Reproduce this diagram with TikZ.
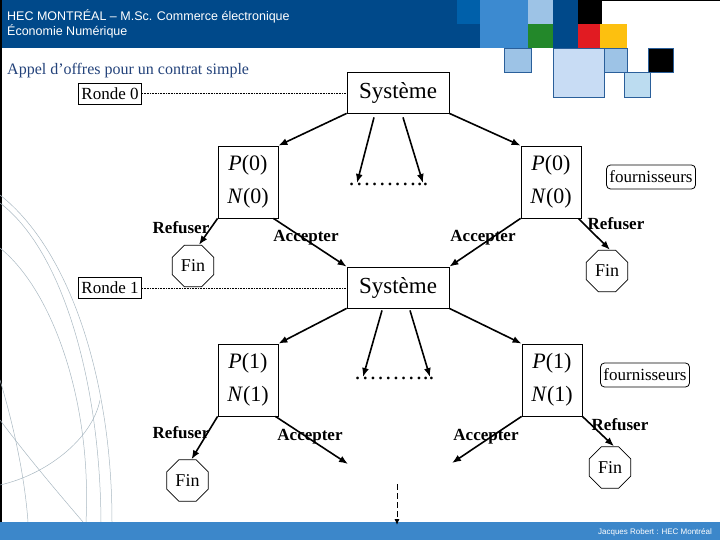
\documentclass[tikz,border=0pt]{standalone}
\usepackage{fontspec}
\setmainfont{Liberation Serif}
\newfontfamily\hecsans{Liberation Sans}
\usepackage{tikz}
\usetikzlibrary{arrows.meta, calc, positioning, shapes.geometric}
\usepackage{xcolor}
\definecolor{HecBlue}{HTML}{00498A}
\definecolor{HecMid}{HTML}{0060AA}
\definecolor{HecSky}{HTML}{3C8AD0}
\definecolor{HecLite}{HTML}{9DC3E6}
\definecolor{HecPale}{HTML}{C8DCF4}
\definecolor{HecIce}{HTML}{BCDCF0}
\definecolor{HecEdge}{HTML}{2A5F9A}
\definecolor{HecGreen}{HTML}{23882A}
\definecolor{HecRed}{HTML}{E11B22}
\definecolor{HecGold}{HTML}{FDC00F}
\definecolor{HecFoot}{HTML}{3C87CA}
\definecolor{SlateText}{HTML}{23427A}
\definecolor{Swirl}{HTML}{A9B8C2}
\tikzset{%
  sys_block/.style={%
    rectangle,%
    draw=black,%
    line width=0.8pt,%
    minimum width=102pt,%
    minimum height=41pt,%
    fill=white,%
    font={\fontsize{23}{27}\selectfont},%
    align=center%
  },
  pn_block/.style={%
    rectangle,%
    draw=black,%
    line width=0.8pt,%
    minimum width=60pt,%
    minimum height=72pt,%
    inner sep=2pt,%
    font={\fontsize{22}{33}\selectfont},%
    align=center%
  },
  ronde_block/.style={%
    rectangle,%
    draw=black,%
    line width=0.8pt,%
    fill=white,%
    minimum width=63pt,%
    minimum height=21pt,%
    inner sep=1pt,%
    font={\fontsize{17}{20}\selectfont}%
  },
  four_block/.style={%
    rectangle,%
    rounded corners=4pt,%
    draw=black,%
    line width=0.8pt,%
    minimum width=89pt,%
    minimum height=24pt,%
    inner sep=1pt,%
    font={\fontsize{17}{20}\selectfont}%
  },
  fin_oct/.style={%
    regular polygon,%
    regular polygon sides=8,%
    draw=black,%
    line width=0.8pt,%
    minimum size=45pt,%
    inner sep=0pt,%
    fill=white,%
    font={\fontsize{18}{20}\selectfont}%
  },
  choice_label/.style={%
    font={\fontsize{17}{20}\selectfont\bfseries},%
    inner sep=0pt%
  },
  dots_text/.style={%
    anchor=base,%
    inner sep=0pt,%
    font={\fontsize{23}{27}\selectfont}%
  },
  smooth_path/.style={%
    color=black,%
    line join=round,%
    line width=1.6pt%
  },
  round_path/.style={%
    color=black,%
    line width=0.8pt,%
    dash pattern=on 0.8pt off 0.8pt%
  },
  arrow/.style={-{Latex[length=9pt, width=7pt]}},
  swirl/.style={%
    color=Swirl,%
    line width=0.5pt%
  },
}

\begin{document}
\begin{tikzpicture}[x=1pt, y=-1pt]

  \useasboundingbox (0,0) rectangle (720,540);

  % banner
  \fill [HecBlue] (0,0) rectangle (480,48);
  \fill [HecMid] (457,0) rectangle (480,24);
  \fill [HecSky] (480,0) rectangle (528,48);
  \fill [HecLite] (528,0) rectangle (553,24);
  \fill [HecGreen] (528,24) rectangle (553,48);
  \fill [HecBlue] (553,0) rectangle (578,48);
  \fill [black] (578,0) rectangle (602,24);
  \fill [HecRed] (578,24) rectangle (600,48);
  \fill [HecGold] (600,24) rectangle (627,48);
  \filldraw [fill=HecLite, draw=HecEdge] (504,48) rectangle (531,72);
  \filldraw [fill=HecPale, draw=HecEdge] (553,48) rectangle (604,97);
  \filldraw [fill=HecLite, draw=HecEdge] (604,48) rectangle (627,72);
  \filldraw [fill=HecIce, draw=HecEdge] (624,72) rectangle (650,97);
  \filldraw [fill=black, draw=HecEdge] (648,48) rectangle (673,72);
  \draw [line width=1pt] (602,0.5) -- (720,0.5);
  \draw [line width=1.5pt] (0.75,0) -- (0.75,540);

  \node [anchor=base west, inner sep=0pt, text=white, font={\hecsans\fontsize{12.5}{14}\selectfont}]
    (title1) at (7,20.5) {HEC MONTRÉAL – M.Sc. Commerce électronique};
  \node [anchor=base west, inner sep=0pt, text=white, font={\hecsans\fontsize{12.5}{14}\selectfont}]
    (title2) at (7,35.5) {Économie Numérique};

  % background swirls
  \draw [swirl] (0,195) .. controls (70,250) and (112,380) .. (112,522);
  \draw [swirl] (0,203) .. controls (62,250) and (100,380) .. (101,522);
  \draw [swirl] (0,248) .. controls (52,290) and (92,400) .. (86,522);
  \draw [swirl] (0,485) .. controls (45,475) and (92,440) .. (100,400);
  \draw [swirl] (0,420) .. controls (30,460) and (60,495) .. (83,522);
  \draw [swirl] (0,380) .. controls (15,430) and (25,480) .. (28,522);

  % footer
  \fill [HecFoot] (0,522) rectangle (720,540);
  \node [anchor=base east, inner sep=0pt, text=white, font={\hecsans\fontsize{8}{9}\selectfont}]
    (credit) at (712,534) {Jacques Robert : HEC Montréal};

  \node [anchor=base west, inner sep=0pt, text=SlateText, font={\fontsize{16}{18}\selectfont}]
    (appel) at (7,75) {Appel d’offres pour un contrat simple};

  % round 0
  \node [sys_block] (Sys0) at (398,92.5) {Système};
  \node [ronde_block] (Ronde0) at (110,93.5) {Ronde 0};
  \node [pn_block] (PL0) at (248,182) {\textit{P}(0)\\\textit{N}(0)};
  \node [pn_block] (PR0) at (551,182) {\textit{P}(0)\\\textit{N}(0)};
  \node [four_block] (Four0) at (651,177) {fournisseurs};
  \node [dots_text] (Dots0) at (388,186) {………..};
  \node [fin_oct] (FinL0) at (193,266) {Fin};
  \node [fin_oct] (FinR0) at (607,271) {Fin};
  \node [choice_label] (RefL0) at (181,228) {Refuser};
  \node [choice_label] (AccL0) at (306,238) {Accepter};
  \node [choice_label] (AccR0) at (483,238) {Accepter};
  \node [choice_label] (RefR0) at (616,224) {Refuser};
  \coordinate (down0a) at (357,183);
  \coordinate (down0b) at (423,183);

  % round 1
  \node [sys_block] (Sys1) at (398,287.5) {Système};
  \node [ronde_block] (Ronde1) at (110,288) {Ronde 1};
  \node [pn_block] (PL1) at (248,380) {\textit{P}(1)\\\textit{N}(1)};
  \node [pn_block] (PR1) at (552,380) {\textit{P}(1)\\\textit{N}(1)};
  \node [four_block] (Four1) at (645,375) {fournisseurs};
  \node [dots_text] (Dots1) at (394,379) {………..};
  \node [fin_oct] (FinL1) at (187.5,480.5) {Fin};
  \node [fin_oct] (FinR1) at (610,467.5) {Fin};
  \node [choice_label] (RefL1) at (181,433) {Refuser};
  \node [choice_label] (AccL1) at (310,437) {Accepter};
  \node [choice_label] (AccR1) at (486,437) {Accepter};
  \node [choice_label] (RefR1) at (620,425) {Refuser};
  \coordinate (down1a) at (363,377);
  \coordinate (down1b) at (430,377);
  \coordinate (acc_end_l1) at (348,464);
  \coordinate (acc_end_r1) at (452,463);
  \coordinate (next_top) at (397,484);
  \coordinate (next_end) at (397,525);

  \draw [round_path]
    (Ronde0.east) -- (Ronde0.east -| Sys0.west);
  \draw [round_path]
    (Ronde1.east) -- (Ronde1.east -| Sys1.west);

  \draw [arrow, smooth_path]
    (Sys0.south west) -- (PL0.north east);
  \draw [arrow, smooth_path]
    ([xshift=-24pt, yshift=-4pt]Sys0.south) -- (down0a);
  \draw [arrow, smooth_path]
    ([xshift=5pt, yshift=-4pt]Sys0.south) -- (down0b);
  \draw [arrow, smooth_path]
    (Sys0.south east) -- (PR0.north west);
  \draw [arrow, smooth_path]
    (PL0.south west) -- ([xshift=6pt]FinL0.north);
  \draw [arrow, smooth_path]
    ([xshift=-5pt]PL0.south east) -- (Sys1.north west);
  \draw [arrow, smooth_path]
    (PR0.south west) -- (Sys1.north east);
  \draw [arrow, smooth_path]
    ([xshift=-3pt]PR0.south east) -- ([xshift=3pt]FinR0.north);

  \draw [arrow, smooth_path]
    (Sys1.south west) -- (PL1.north east);
  \draw [arrow, smooth_path]
    ([xshift=-16pt, yshift=-2pt]Sys1.south) -- (down1a);
  \draw [arrow, smooth_path]
    ([xshift=12pt, yshift=-2pt]Sys1.south) -- (down1b);
  \draw [arrow, smooth_path]
    (Sys1.south east) -- (PR1.north west);
  \draw [arrow, smooth_path]
    (PL1.south west) -- ([xshift=4pt]FinL1.north);
  \draw [arrow, smooth_path]
    ([xshift=-3pt]PL1.south east) -- (acc_end_l1);
  \draw [arrow, smooth_path]
    (PR1.south west) -- (acc_end_r1);
  \draw [arrow, smooth_path]
    (PR1.south east) -- ([xshift=4pt]FinR1.north);
  \draw [-{Latex[length=6pt, width=5pt]}, line width=0.9pt, dash pattern=on 6pt off 3pt]
    (next_top) -- (next_end);

\end{tikzpicture}
\end{document}
